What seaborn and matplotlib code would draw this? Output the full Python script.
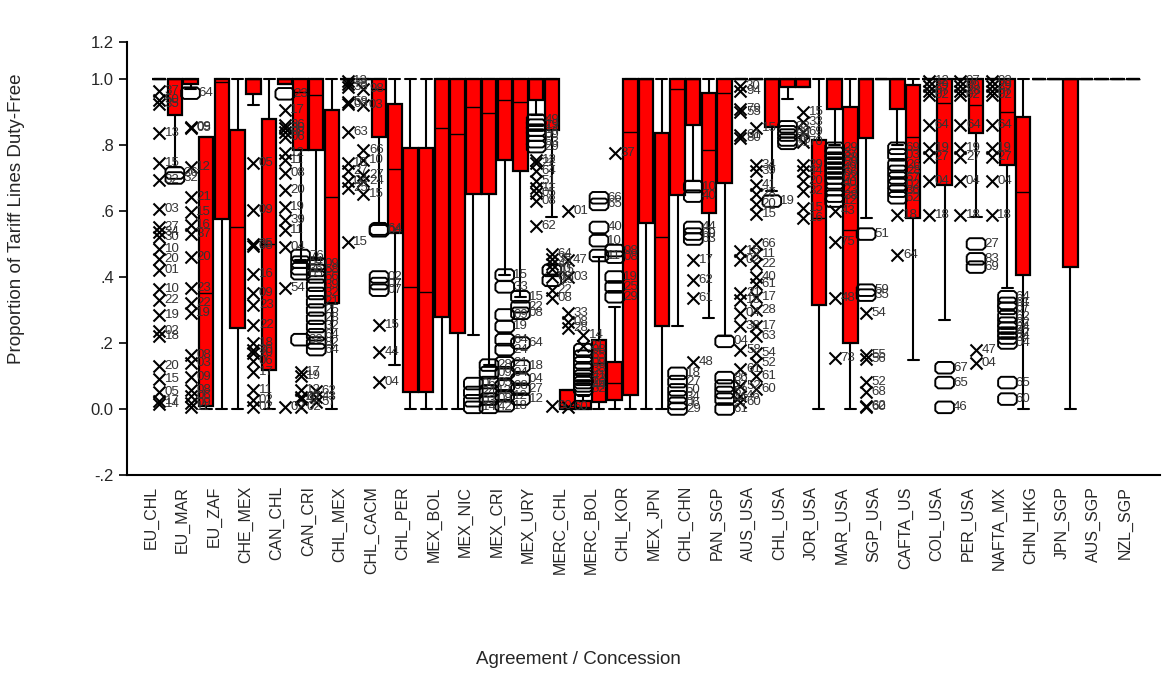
import matplotlib
matplotlib.use("Agg")
import matplotlib.pyplot as plt
import pandas as pd
import seaborn as sns

# agreements, two concessions (boxes) each
agreements = ["EU_CHL", "EU_MAR", "EU_ZAF", "CHE_MEX", "CAN_CHL", "CAN_CRI", "CHL_MEX",
              "CHL_CACM", "CHL_PER", "MEX_BOL", "MEX_NIC", "MEX_CRI", "MEX_URY", "MERC_CHL",
              "MERC_BOL", "CHL_KOR", "MEX_JPN", "CHL_CHN", "PAN_SGP", "AUS_USA", "CHL_USA",
              "JOR_USA", "MAR_USA", "SGP_USA", "CAFTA_US", "COL_USA", "PER_USA", "NAFTA_MX",
              "CHN_HKG", "JPN_SGP", "AUS_SGP", "NZL_SGP"]

# box statistics per concession (64 slots, None = no box)
N = None
whis_lo = [N, 1, .733, .97, 0, 0, 0, .92, 0, .985, .45, .45, 0, 1, 1, .563,
           .133, 0, 0, 0, 0, .224, .133, .406, .34, .89, .583, 0, 0, 0, 0, 0,
           0, 0, .25, .69, .275, .22, 1, 1, .66, .94, .977, 0, .8, 0, .578, 1,
           .8, .148, 1, .27, 1, .583, 1, .366, 0, 1, 1, 0, 1, 1, 1, 1]
q1 = [N, 1, .89, .985, .01, .575, .245, .955, .118, .985, .785, .785, .32, 1, 1, .825,
      .532, .053, .053, .28, .23, .65, .65, .755, .72, .937, .845, 0, 0, .022, .027, .042,
      .563, .25, .648, .86, .595, .684, 1, 1, .855, .977, .977, .315, .91, .199, .82, 1,
      .91, .578, 1, .68, 1, .835, 1, .74, .406, 1, 1, .431, 1, 1, 1, 1]
med = [N, 1, 1, 1, .35, .99, .55, 1, .5, 1, .96, .95, .643, 1, 1, .97,
       .726, .37, .355, .85, .833, .914, .896, .936, .93, 1, 1, .01, .005, .138, .078, .84,
       1, .522, .97, 1, .785, .957, 1, 1, 1, 1, 1, .58, 1, .542, 1, 1,
       1, .825, 1, .927, 1, .92, 1, .90, .659, 1, 1, 1, 1, 1, 1, 1]
q3 = [N, 1, 1, 1, .825, 1, .845, 1, .878, 1, 1, 1, .906, 1, 1, 1,
      .923, .79, .79, 1, 1, 1, 1, 1, 1, 1, 1, .058, .025, .209, .143, 1,
      1, .835, 1, 1, .957, 1, 1, 1, 1, 1, 1, .815, 1, .916, 1, 1,
      1, .982, 1, 1, 1, 1, 1, 1, .886, 1, 1, 1, 1, 1, 1, 1]
whis_hi = [N, 1, 1, 1, .825, 1, 1, 1, 1, 1, 1, 1, 1, 1, 1, 1,
           1, 1, 1, 1, 1, 1, 1, 1, 1, 1, 1, .058, .04, .46, .31, 1,
           1, 1, 1, 1, 1, 1, 1, 1, 1, 1, 1, 1, 1, 1, 1, 1,
           1, 1, 1, 1, 1, 1, 1, 1, 1, 1, 1, 1, 1, 1, 1, 1]

# labelled outliers drawn with "x": (slot, value, label)
cross_pts = [
    (1, .965, "37"), (1, .935, "50"), (1, .925, "35"), (1, .835, "13"), (1, .745, "15"),
    (1, .695, "32"), (1, .605, "03"), (1, .55, "27"), (1, .535, "34"), (1, .52, "30"),
    (1, .485, "10"), (1, .455, "20"), (1, .42, "01"), (1, .365, "10"), (1, .33, "22"),
    (1, .285, "19"), (1, .235, "02"), (1, .22, "18"), (1, .13, "20"), (1, .09, "15"),
    (1, .05, "05"), (1, .025, "17"), (1, .015, "14"),
    (3, .855, "09"), (3, .85, "05"), (3, .734, "12"), (3, .643, "21"), (3, .598, "15"),
    (3, .558, "16"), (3, .53, "37"), (3, .46, "20"), (3, .366, "23"), (3, .32, "22"),
    (3, .29, "19"), (3, .164, "08"), (3, .138, "03"), (3, .098, "09"), (3, .058, "08"),
    (3, .04, "06"), (3, .017, "09"), (3, .005, "11"),
    (7, .745, "05"), (7, .603, "09"), (7, .50, "35"), (7, .495, "08"), (7, .41, "16"),
    (7, .35, "09"), (7, .315, "23"), (7, .255, "22"), (7, .20, "18"), (7, .18, "30"),
    (7, .17, "10"), (7, .145, "06"), (7, .113, "17"), (7, .058, "11"), (7, .027, "02"),
    (7, .005, "02"),
    (9, .906, "17"), (9, .86, "36"), (9, .85, "30"), (9, .84, "08"), (9, .825, "06"),
    (9, .775, "12"), (9, .755, "11"), (9, .714, "08"), (9, .664, "20"), (9, .613, "19"),
    (9, .573, "39"), (9, .542, "11"), (9, .492, "04"), (9, .366, "54"), (9, .005, "02"),
    (10, .113, "17"), (10, .10, "19"), (10, .058, "12"), (10, .035, "07"), (10, .03, "42"),
    (10, .005, "02"),
    (11, .055, "62"), (11, .035, "43"), (11, .02, "57"),
    (13, .995, "13"), (13, .985, "78"), (13, .975, "33"), (13, .93, "58"), (13, .925, "03"),
    (13, .84, "63"), (13, .745, "10"), (13, .72, "27"), (13, .69, "04"), (13, .67, "25"),
    (13, .507, "15"),
    (14, .97, "98"), (14, .92, "03"), (14, .785, "66"), (14, .755, "10"), (14, .71, "27"),
    (14, .69, "24"), (14, .65, "15"),
    (15, .255, "15"), (15, .174, "44"), (15, .083, "04"),
    (25, .755, "12"), (25, .745, "22"), (25, .72, "64"), (25, .69, "51"), (25, .67, "11"),
    (25, .655, "05"), (25, .63, "08"), (25, .555, "62"),
    (26, .47, "64"), (26, .455, "35"), (26, .44, "47"), (26, .425, "10"), (26, .40, "08"),
    (26, .36, "22"), (26, .335, "08"), (26, .01, "60"),
    (27, .60, "01"), (27, .45, "47"), (27, .40, "03"), (27, .29, "33"), (27, .265, "08"),
    (27, .245, "28"), (27, .005, "60"),
    (28, .225, "14"), (28, .19, "21"),
    (30, .775, "37"),
    (35, .45, "17"), (35, .39, "62"), (35, .335, "61"), (35, .143, "48"),
    (38, .98, "30"), (38, .965, "94"), (38, .91, "79"), (38, .90, "55"), (38, .83, "61"),
    (38, .82, "80"), (38, .48, "15"), (38, .45, "02"), (38, .35, "21"), (38, .33, "18"),
    (38, .29, "04"), (38, .25, "38"), (38, .18, "58"), (38, .12, "61"), (38, .07, "52"),
    (38, .04, "46"), (38, .02, "60"),
    (39, .85, "15"), (39, .74, "34"), (39, .72, "39"), (39, .68, "41"), (39, .65, "28"),
    (39, .62, "20"), (39, .59, "15"), (39, .50, "66"), (39, .47, "11"), (39, .44, "22"),
    (39, .40, "40"), (39, .38, "61"), (39, .34, "17"), (39, .30, "28"), (39, .25, "17"),
    (39, .22, "63"), (39, .17, "54"), (39, .14, "52"), (39, .10, "61"), (39, .06, "60"),
    (42, .90, "15"), (42, .87, "33"), (42, .84, "69"), (42, .81, "70"), (42, .74, "29"),
    (42, .72, "44"), (42, .69, "20"), (42, .66, "32"), (42, .61, "15"), (42, .58, "16"),
    (44, .60, "43"), (44, .507, "75"), (44, .335, "48"), (44, .153, "73"),
    (46, .29, "54"), (46, .165, "55"), (46, .15, "56"), (46, .083, "52"), (46, .05, "68"),
    (46, .01, "62"), (46, .005, "60"),
    (48, .588, "18"), (48, .467, "64"),
    (50, .995, "12"), (50, .98, "29"), (50, .965, "07"), (50, .95, "02"), (50, .86, "64"),
    (50, .79, "19"), (50, .765, "27"), (50, .69, "04"), (50, .588, "18"),
    (52, .995, "07"), (52, .98, "09"), (52, .965, "28"), (52, .95, "02"), (52, .86, "64"),
    (52, .79, "19"), (52, .765, "27"), (52, .69, "04"), (52, .588, "18"),
    (53, .18, "47"), (53, .138, "04"),
    (54, .995, "03"), (54, .98, "29"), (54, .965, "07"), (54, .95, "02"), (54, .86, "64"),
    (54, .79, "19"), (54, .765, "27"), (54, .69, "04"), (54, .588, "18"),
]

# labelled outliers drawn with hollow octagons: (slot, value, label)
ring_pts = [
    (2, .715, "26"), (2, .70, "32"),
    (3, .957, "64"),
    (9, .955, "23"),
    (10, .465, "76"), (10, .445, "54"), (10, .425, "36"), (10, .41, "05"), (10, .21, "38"),
    (11, .44, "09"), (11, .42, "58"), (11, .40, "56"), (11, .375, "39"), (11, .35, "32"),
    (11, .325, "21"), (11, .30, "25"), (11, .275, "28"), (11, .25, "32"), (11, .225, "64"),
    (11, .20, "82"), (11, .18, "64"),
    (15, .545, "64"), (15, .54, "04"), (15, .40, "02"), (15, .38, "07"), (15, .36, "07"),
    (21, .077, "06"), (21, .05, "24"), (21, .025, "03"), (21, .005, "14"),
    (22, .133, "28"), (22, .11, "09"), (22, .08, "05"), (22, .055, "12"), (22, .03, "08"),
    (22, .005, "42"),
    (23, .406, "15"), (23, .37, "33"), (23, .285, "09"), (23, .25, "19"), (23, .21, "64"),
    (23, .18, "24"), (23, .14, "21"), (23, .11, "04"), (23, .07, "08"), (23, .04, "12"),
    (23, .01, "18"),
    (24, .34, "15"), (24, .31, "22"), (24, .29, "08"), (24, .20, "64"), (24, .13, "18"),
    (24, .09, "04"), (24, .06, "27"), (24, .03, "12"),
    (25, .875, "49"), (25, .86, "19"), (25, .845, "14"), (25, .83, "09"), (25, .81, "53"),
    (25, .795, "29"),
    (26, .42, "15"), (26, .39, "19"),
    (28, .18, "98"), (28, .16, "65"), (28, .14, "09"), (28, .12, "38"), (28, .10, "41"),
    (28, .09, "73"), (28, .08, "26"), (28, .07, "44"), (28, .06, "52"),
    (29, .64, "66"), (29, .62, "65"), (29, .55, "40"), (29, .51, "10"), (29, .465, "11"),
    (30, .48, "98"), (30, .46, "08"), (30, .40, "19"), (30, .37, "25"), (30, .34, "29"),
    (34, .108, "18"), (34, .083, "27"), (34, .058, "50"), (34, .037, "34"), (34, .017, "06"),
    (34, .0, "29"),
    (35, .674, "10"), (35, .645, "40"), (35, .55, "44"), (35, .53, "69"), (35, .515, "63"),
    (37, .205, "04"), (37, .095, "86"), (37, .07, "27"), (37, .05, "52"), (37, .03, "44"),
    (37, .0, "61"),
    (40, .63, "19"),
    (41, .855, "33"), (41, .84, "63"), (41, .83, "58"), (41, .815, "70"), (41, .805, "61"),
    (44, .79, "29"), (44, .775, "37"), (44, .76, "88"), (44, .745, "59"), (44, .73, "49"),
    (44, .715, "66"), (44, .70, "03"), (44, .685, "40"), (44, .665, "23"), (44, .645, "38"),
    (44, .63, "12"),
    (46, .53, "51"), (46, .36, "59"), (46, .345, "35"),
    (48, .79, "69"), (48, .77, "03"), (48, .74, "26"), (48, .72, "28"), (48, .70, "57"),
    (48, .68, "02"), (48, .66, "36"), (48, .64, "62"),
    (51, .125, "67"), (51, .08, "65"), (51, .005, "46"),
    (53, .50, "27"), (53, .455, "83"), (53, .43, "69"),
    (55, .34, "64"), (55, .32, "61"), (55, .305, "67"), (55, .28, "62"), (55, .26, "32"),
    (55, .245, "24"), (55, .23, "42"), (55, .215, "34"), (55, .20, "04"), (55, .08, "65"),
    (55, .03, "60"),
]

sns.set_style("ticks")
plt.rcParams["font.family"] = ["Liberation Sans", "DejaVu Sans"]

W, H = 1174, 676
fig = plt.figure(figsize=(W / 100, H / 100), dpi=100)
ax = fig.add_axes([127 / W, 1 - 475 / H, (1160 - 127) / W, (475 - 42) / H])

stats, positions = [], []
for i in range(len(q1)):
    if q1[i] is None:
        continue
    stats.append(dict(whislo=whis_lo[i], q1=q1[i], med=med[i], q3=q3[i],
                      whishi=whis_hi[i], fliers=[]))
    positions.append(i)

ax.bxp(stats, positions=positions, widths=0.92, capwidths=0.7, patch_artist=True,
       showfliers=False,
       boxprops=dict(facecolor="#ff0000", edgecolor="black", linewidth=1.6),
       medianprops=dict(color="black", linewidth=1.0),
       whiskerprops=dict(color="black", linewidth=1.5),
       capprops=dict(color="black", linewidth=1.5))

cross = pd.DataFrame(cross_pts, columns=["slot", "value", "label"])
ring = pd.DataFrame(ring_pts, columns=["slot", "value", "label"])

octagon = [(-1, .35), (-.7, .62), (.7, .62), (1, .35), (1, -.35), (.7, -.62),
           (-.7, -.62), (-1, -.35), (-1, .35)]

sns.scatterplot(data=cross, x="slot", y="value", marker="x", color="black",
                s=75, linewidth=1.5, ax=ax, zorder=3, legend=False)
sns.scatterplot(data=ring, x="slot", y="value", marker=octagon, facecolor="none",
                edgecolor="black", s=180, linewidth=1.4, ax=ax, zorder=3, legend=False)

for df, dx in ((cross, 4), (ring, 6)):
    for s, v, lab in df.itertuples(index=False):
        ax.annotate(lab, (s, v), xytext=(dx, 0), textcoords="offset points",
                    ha="left", va="center", fontsize=9.5, color="#333333", zorder=4)

top = 1.112
ax.set_ylim(-0.2, top)
ax.set_yticks([-.2, 0, .2, .4, .6, .8, 1.0, top])
ax.set_yticklabels(["-.2", "0.0", ".2", ".4", ".6", ".8", "1.0", "1.2"])
ax.set_xlim(-1.044, 64.71)
ax.set_xticks([2 * g + 0.5 for g in range(len(agreements))])
ax.set_xticklabels(agreements, rotation=90)
ax.tick_params(axis="x", length=0, pad=8, labelsize=11.5)
ax.tick_params(axis="y", length=6, width=1.2, labelsize=12, color="black")
ax.set_xlabel("")
ax.set_ylabel("")
for side in ("top", "right"):
    ax.spines[side].set_visible(False)
for side in ("left", "bottom"):
    ax.spines[side].set_linewidth(1.5)
    ax.spines[side].set_color("black")

fig.text(17 / W, 1 - 219 / H, "Proportion of Tariff Lines Duty-Free", rotation=90,
         ha="center", va="center", fontsize=13.5)
fig.text(578 / W, 1 - 660 / H, "Agreement / Concession", ha="center", va="center",
         fontsize=13.5)

fig.savefig("out.png", dpi=100)
